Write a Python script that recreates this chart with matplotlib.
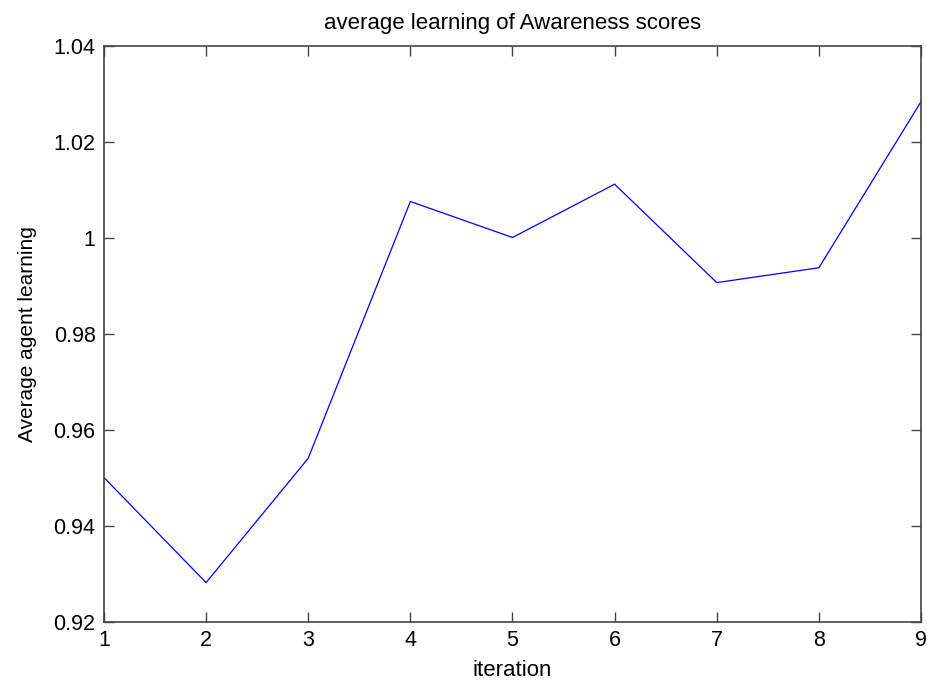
import numpy as np
import matplotlib.pyplot as plt

plt.rcParams['font.family'] = ['Liberation Sans', 'DejaVu Sans']

# data
iteration = [1, 2, 3, 4, 5, 6, 7, 8, 9]
avg_learning = [0.9501, 0.9282, 0.9541, 1.0076, 1.0001, 1.0112, 0.9907, 0.9938, 1.0284]
y_ticks = [0.92, 0.94, 0.96, 0.98, 1.0, 1.02, 1.04]
y_tick_labels = ['0.92', '0.94', '0.96', '0.98', '1', '1.02', '1.04']

fig = plt.figure(figsize=(9.28, 6.82), dpi=100)
ax = fig.add_axes([0.112, 0.088, 0.8805, 0.8446])

ax.plot(iteration, avg_learning, color='#0000ff', linewidth=0.9)

ax.set_xlim(1, 9)
ax.set_ylim(0.92, 1.04)
ax.set_xticks(iteration)
ax.set_yticks(y_ticks)
ax.set_yticklabels(y_tick_labels)
ax.tick_params(direction='in', top=True, right=True, length=7, width=1,
               color='#444444', labelsize=15.5, pad=6)
for s in ax.spines.values():
    s.set_color('#444444')
    s.set_linewidth(1.2)

ax.set_title('average learning of Awareness scores', fontsize=16, pad=12)
ax.set_xlabel('iteration', fontsize=16, labelpad=6)
ax.set_ylabel('Average agent learning', fontsize=15, labelpad=12)

plt.savefig('out.png', dpi=100)
